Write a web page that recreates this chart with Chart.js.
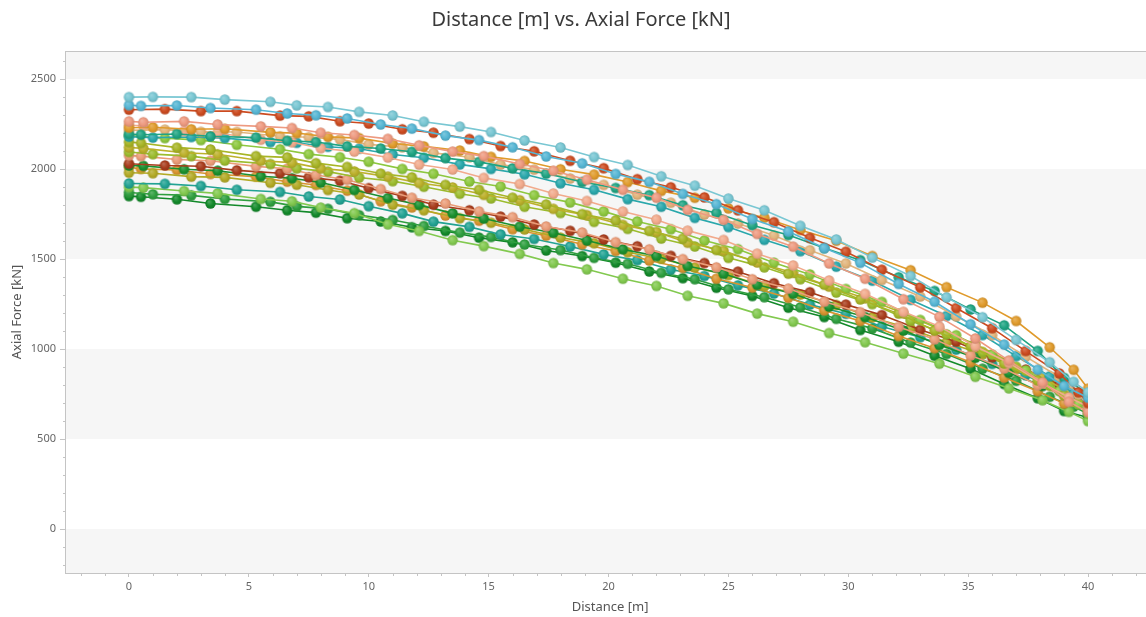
<!DOCTYPE html>
<html>
<head>
<meta charset="utf-8">
<title>Distance vs. Axial Force</title>
<script src="https://cdn.jsdelivr.net/npm/chart.js@4/dist/chart.umd.min.js"></script>
<style>
  html, body { margin: 0; padding: 0; background: #ffffff; overflow: hidden; }
  #wrap { width: 1162px; height: 617px; }
</style>
</head>
<body>
<div id="wrap"><canvas id="chart" width="1162" height="617"></canvas></div>
<script>
// Sampling stations along the member [m] (each run uses one of these grids)
const distA = [0, 1.0, 2.6, 4.0, 5.9, 7.0, 8.3, 9.6, 11.0, 12.3, 13.8, 15.1, 16.5, 18.0, 19.4, 20.8, 22.2, 23.6, 25.0, 26.5, 28.0, 29.5, 31.0, 32.6, 34.1, 35.6, 37.0, 38.4, 39.4, 40];
const distB = [0, 0.5, 2.0, 3.4, 5.3, 6.6, 7.8, 9.1, 10.5, 11.8, 13.2, 14.6, 16.0, 17.4, 18.9, 20.3, 21.7, 23.1, 24.5, 26.0, 27.5, 29.0, 30.5, 32.1, 33.6, 35.1, 36.5, 37.9, 39.0, 40];
const distC = [0, 1.5, 3.0, 4.5, 6.3, 7.5, 8.8, 10.0, 11.4, 12.7, 14.2, 15.5, 16.9, 18.4, 19.8, 21.2, 22.6, 24.0, 25.4, 26.9, 28.4, 29.9, 31.4, 33.0, 34.5, 36.0, 37.4, 38.8, 39.6, 40];
const distD = [0, 0.6, 2.3, 3.7, 5.5, 6.8, 8.0, 9.4, 10.8, 12.1, 13.5, 14.8, 16.3, 17.7, 19.1, 20.6, 22.0, 23.3, 24.8, 26.2, 27.7, 29.2, 30.7, 32.3, 33.8, 35.3, 36.7, 38.1, 39.2, 40];

// Axial force per run [kN]
const force01 = [2400, 2401, 2400, 2386, 2374, 2354, 2345, 2318, 2298, 2263, 2236, 2206, 2159, 2120, 2067, 2023, 1960, 1908, 1836, 1771, 1685, 1609, 1508, 1406, 1287, 1177, 1051, 927, 818, 760];
const force02 = [2355, 2351, 2353, 2339, 2330, 2309, 2299, 2281, 2248, 2225, 2186, 2161, 2121, 2070, 2032, 1973, 1929, 1862, 1805, 1723, 1653, 1561, 1479, 1362, 1263, 1138, 1025, 885, 795, 730];
const force03 = [2330, 2333, 2322, 2322, 2297, 2293, 2266, 2253, 2221, 2202, 2167, 2128, 2099, 2046, 2005, 1944, 1899, 1843, 1771, 1705, 1618, 1541, 1441, 1343, 1228, 1116, 989, 865, 760, 700];
const force04 = [2265, 2260, 2265, 2248, 2237, 2228, 2202, 2189, 2168, 2132, 2097, 2072, 2028, 1991, 1941, 1885, 1841, 1774, 1718, 1640, 1569, 1476, 1391, 1277, 1179, 1059, 936, 815, 707, 650];
const force05 = [2230, 2232, 2221, 2224, 2204, 2200, 2179, 2172, 2142, 2126, 2103, 2068, 2045, 1999, 1969, 1928, 1879, 1841, 1782, 1730, 1662, 1602, 1517, 1438, 1344, 1258, 1156, 1010, 885, 780];
const force06 = [2195, 2191, 2195, 2182, 2175, 2157, 2150, 2126, 2114, 2096, 2061, 2040, 2004, 1975, 1928, 1895, 1855, 1799, 1756, 1688, 1634, 1561, 1494, 1399, 1323, 1220, 1132, 990, 840, 750];
const force07 = [2215, 2219, 2207, 2206, 2182, 2177, 2165, 2137, 2121, 2090, 2066, 2025, 1997, 1948, 1912, 1858, 1813, 1748, 1698, 1631, 1549, 1476, 1384, 1292, 1182, 1077, 958, 845, 746, 690];
const force08 = [2245, 2239, 2212, 2202, 2163, 2149, 2116, 2097, 2064, 2025, 1998, 1951, 1917, 1864, 1823, 1764, 1719, 1658, 1606, 1530, 1465, 1381, 1307, 1207, 1125, 1016, 923, 809, 732, 680];
const force09 = [2180, 2175, 2178, 2172, 2150, 2146, 2124, 2113, 2081, 2063, 2026, 2001, 1971, 1921, 1885, 1833, 1791, 1729, 1678, 1607, 1544, 1458, 1380, 1274, 1184, 1078, 961, 849, 753, 700];
const force10 = [2150, 2145, 2119, 2109, 2072, 2065, 2033, 2012, 1975, 1954, 1912, 1885, 1841, 1803, 1750, 1714, 1657, 1613, 1551, 1493, 1419, 1358, 1276, 1197, 1103, 1016, 920, 826, 743, 700];
const force11 = [2185, 2172, 2161, 2135, 2110, 2083, 2066, 2041, 2001, 1974, 1931, 1903, 1855, 1815, 1765, 1709, 1666, 1603, 1555, 1480, 1415, 1334, 1262, 1162, 1077, 970, 881, 767, 693, 640];
const force12 = [2120, 2115, 2091, 2082, 2046, 2036, 2004, 1987, 1958, 1923, 1898, 1857, 1827, 1779, 1744, 1690, 1651, 1591, 1546, 1481, 1424, 1347, 1282, 1199, 1110, 1027, 932, 841, 761, 720];
const force13 = [2095, 2083, 2072, 2047, 2028, 2004, 1986, 1953, 1933, 1902, 1863, 1837, 1791, 1756, 1707, 1668, 1614, 1570, 1507, 1454, 1388, 1314, 1250, 1157, 1082, 984, 902, 796, 727, 680];
const force14 = [2075, 2072, 2053, 2046, 2015, 2002, 1967, 1941, 1889, 1841, 1809, 1765, 1733, 1681, 1648, 1594, 1554, 1500, 1454, 1388, 1336, 1263, 1205, 1123, 1054, 965, 892, 799, 742, 700];
const force15 = [2030, 2020, 2016, 1993, 1977, 1954, 1935, 1894, 1851, 1802, 1771, 1736, 1692, 1657, 1609, 1571, 1518, 1478, 1430, 1366, 1316, 1247, 1189, 1107, 1041, 954, 886, 802, 736, 700];
const force16 = [2020, 2018, 1999, 1991, 1960, 1949, 1925, 1884, 1839, 1801, 1754, 1725, 1680, 1646, 1603, 1554, 1517, 1461, 1418, 1357, 1307, 1236, 1178, 1103, 1023, 952, 868, 795, 727, 690];
const force17 = [1980, 1977, 1958, 1954, 1924, 1913, 1884, 1859, 1802, 1771, 1727, 1702, 1665, 1619, 1588, 1538, 1502, 1453, 1411, 1349, 1303, 1245, 1176, 1113, 1038, 971, 889, 818, 755, 720];
const force18 = [2010, 2001, 1995, 1973, 1958, 1930, 1912, 1880, 1821, 1787, 1742, 1713, 1666, 1630, 1582, 1545, 1492, 1451, 1391, 1342, 1285, 1215, 1156, 1073, 1005, 927, 842, 766, 697, 660];
const force19 = [1920, 1918, 1906, 1885, 1873, 1848, 1831, 1794, 1754, 1708, 1679, 1637, 1612, 1570, 1526, 1494, 1442, 1406, 1354, 1309, 1247, 1196, 1126, 1066, 997, 918, 855, 770, 720, 680];
const force20 = [1900, 1897, 1878, 1865, 1834, 1821, 1786, 1755, 1693, 1656, 1605, 1572, 1529, 1478, 1443, 1391, 1351, 1296, 1254, 1197, 1152, 1089, 1038, 975, 919, 846, 782, 716, 651, 600];
const force21 = [1870, 1860, 1854, 1834, 1818, 1793, 1779, 1744, 1717, 1684, 1647, 1623, 1581, 1550, 1507, 1474, 1424, 1388, 1332, 1288, 1232, 1168, 1115, 1036, 973, 891, 824, 735, 680, 640];
const force22 = [1850, 1846, 1832, 1809, 1791, 1771, 1758, 1727, 1709, 1677, 1656, 1619, 1593, 1548, 1517, 1480, 1431, 1394, 1341, 1295, 1230, 1178, 1106, 1041, 963, 891, 806, 727, 656, 620];

// Colour of each run, in the same order
const runColors = ['#79c7d3', '#56b6d4', '#cc4b20', '#ee9a80', '#e09b2c', '#1fa482', '#e2b57c', '#f2aa8c',
                   '#2aa8ac', '#a8b526', '#8dc83f', '#bdb12c', '#9cbc2e', '#ea9c78', '#a83c1c', '#1a902f',
                   '#b3aa26', '#d99430', '#22a393', '#82c94f', '#2f9f3f', '#13892a'];

// Axis tick labels
const xTickValues = [0, 5, 10, 15, 20, 25, 30, 35, 40];
const yTickValues = [0, 500, 1000, 1500, 2000, 2500];

const runs = [
  [distA, force01], [distB, force02], [distC, force03], [distD, force04], [distA, force05],
  [distB, force06], [distC, force07], [distD, force08], [distA, force09], [distB, force10],
  [distC, force11], [distD, force12], [distA, force13], [distB, force14], [distC, force15],
  [distD, force16], [distA, force17], [distB, force18], [distC, force19], [distD, force20],
  [distA, force21], [distB, force22]
];

// ---- small colour helpers for the shaded markers ----
function hexToRgb(h) {
  const n = parseInt(h.slice(1), 16);
  return [(n >> 16) & 255, (n >> 8) & 255, n & 255];
}
function mix(rgb, target, t) {
  return 'rgb(' + rgb.map((c, i) => Math.round(c + (target[i] - c) * t)).join(',') + ')';
}
function makeBall(hex, r) {
  const size = Math.ceil(r * 2) + 2;
  const c = document.createElement('canvas');
  c.width = size; c.height = size;
  const g = c.getContext('2d');
  const cx = size / 2, cy = size / 2;
  const rgb = hexToRgb(hex);
  const grad = g.createRadialGradient(cx - r * 0.3, cy - r * 0.35, r * 0.1, cx, cy, r);
  grad.addColorStop(0, mix(rgb, [255, 255, 255], 0.22));
  grad.addColorStop(0.6, hex);
  grad.addColorStop(1, mix(rgb, [0, 0, 0], 0.12));
  g.fillStyle = grad;
  g.beginPath();
  g.arc(cx, cy, r, 0, Math.PI * 2);
  g.fill();
  return c;
}

const datasets = runs.map(([xs, ys], i) => ({
  label: 'Run ' + (i + 1),
  data: xs.map((x, k) => ({ x: x, y: ys[k] })),
  borderColor: runColors[i],
  backgroundColor: runColors[i],
  borderWidth: 1.6,
  tension: 0,
  pointStyle: makeBall(runColors[i], 5.2),
  pointRadius: 5.2,
  pointHoverRadius: 5.2
}));

// Alternating horizontal bands, plot frame and minor tick marks
const frameAndBands = {
  id: 'frameAndBands',
  beforeDraw(chart) {
    const { ctx, chartArea: a, scales: { x, y } } = chart;
    ctx.save();
    ctx.fillStyle = '#ffffff';
    ctx.fillRect(0, 0, chart.width, chart.height);
    ctx.fillStyle = '#f6f6f6';
    const bands = [[2500, y.max], [1500, 2000], [500, 1000], [y.min, 0]];
    bands.forEach(([lo, hi]) => {
      const top = y.getPixelForValue(hi), bot = y.getPixelForValue(lo);
      ctx.fillRect(a.left, top, a.right - a.left, bot - top);
    });
    ctx.strokeStyle = '#c4c4c4';
    ctx.lineWidth = 1;
    ctx.strokeRect(Math.round(a.left) + 0.5, Math.round(a.top) + 0.5,
                   Math.round(a.right - a.left), Math.round(a.bottom - a.top));
    // minor ticks
    ctx.beginPath();
    for (let v = Math.ceil(y.min / 100) * 100; v <= y.max; v += 100) {
      if (v % 500 === 0) continue;
      const py = Math.round(y.getPixelForValue(v)) + 0.5;
      ctx.moveTo(a.left - 2, py); ctx.lineTo(a.left, py);
    }
    for (let v = Math.ceil(x.min); v <= x.max; v += 1) {
      if (v % 5 === 0) continue;
      const px = Math.round(x.getPixelForValue(v)) + 0.5;
      ctx.moveTo(px, a.bottom); ctx.lineTo(px, a.bottom + 3);
    }
    ctx.stroke();
    ctx.restore();
  },
  beforeDatasetsDraw(chart) {
    const { ctx, chartArea: a, scales: { x } } = chart;
    ctx.save();
    ctx.beginPath();
    ctx.rect(a.left, a.top, x.getPixelForValue(40) - a.left, a.bottom - a.top);
    ctx.clip();
  },
  afterDatasetsDraw(chart) {
    chart.ctx.restore();
  }
};

const tickFont = { family: "'Noto Sans', 'Open Sans', sans-serif", size: 11 };
const titleFont = { family: "'Noto Sans', 'Open Sans', sans-serif", size: 13 };

new Chart(document.getElementById('chart'), {
  type: 'line',
  data: { datasets },
  plugins: [frameAndBands],
  options: {
    responsive: false,
    animation: false,
    events: [],
    layout: { padding: { left: 0, right: 0, top: 0, bottom: 0 } },
    plugins: {
      legend: { display: false },
      tooltip: { enabled: false },
      title: {
        display: true,
        text: 'Distance [m] vs. Axial Force [kN]',
        color: '#3a3a3a',
        font: { family: "'Noto Sans', 'Open Sans', sans-serif", size: 20, weight: 'normal' },
        padding: { top: 8, bottom: 19 }
      }
    },
    scales: {
      x: {
        type: 'linear',
        min: -2.667,
        max: 42.8,
        afterBuildTicks(s) { s.ticks = xTickValues.map(v => ({ value: v })); },
        afterFit(s) { s.height = 44; },
        grid: { drawOnChartArea: false, drawTicks: true, tickLength: 4, color: '#c4c4c4' },
        border: { display: false },
        ticks: { color: '#666666', font: tickFont, padding: 3, maxRotation: 0, autoSkip: false,
                 callback: v => String(v) },
        title: { display: true, text: 'Distance [m]', color: '#555555', font: titleFont, padding: { top: 0, bottom: 2 } }
      },
      y: {
        type: 'linear',
        min: -244,
        max: 2656,
        afterBuildTicks(s) { s.ticks = yTickValues.map(v => ({ value: v })); },
        afterFit(s) { s.width = 65; },
        grid: { drawOnChartArea: false, drawTicks: true, tickLength: 5, color: '#c4c4c4' },
        border: { display: false },
        ticks: { color: '#666666', font: tickFont, padding: 4, callback: v => String(v) },
        title: { display: true, text: 'Axial Force [kN]', color: '#555555', font: titleFont, padding: { top: 9, bottom: 0 } }
      }
    }
  }
});
</script>
</body>
</html>
